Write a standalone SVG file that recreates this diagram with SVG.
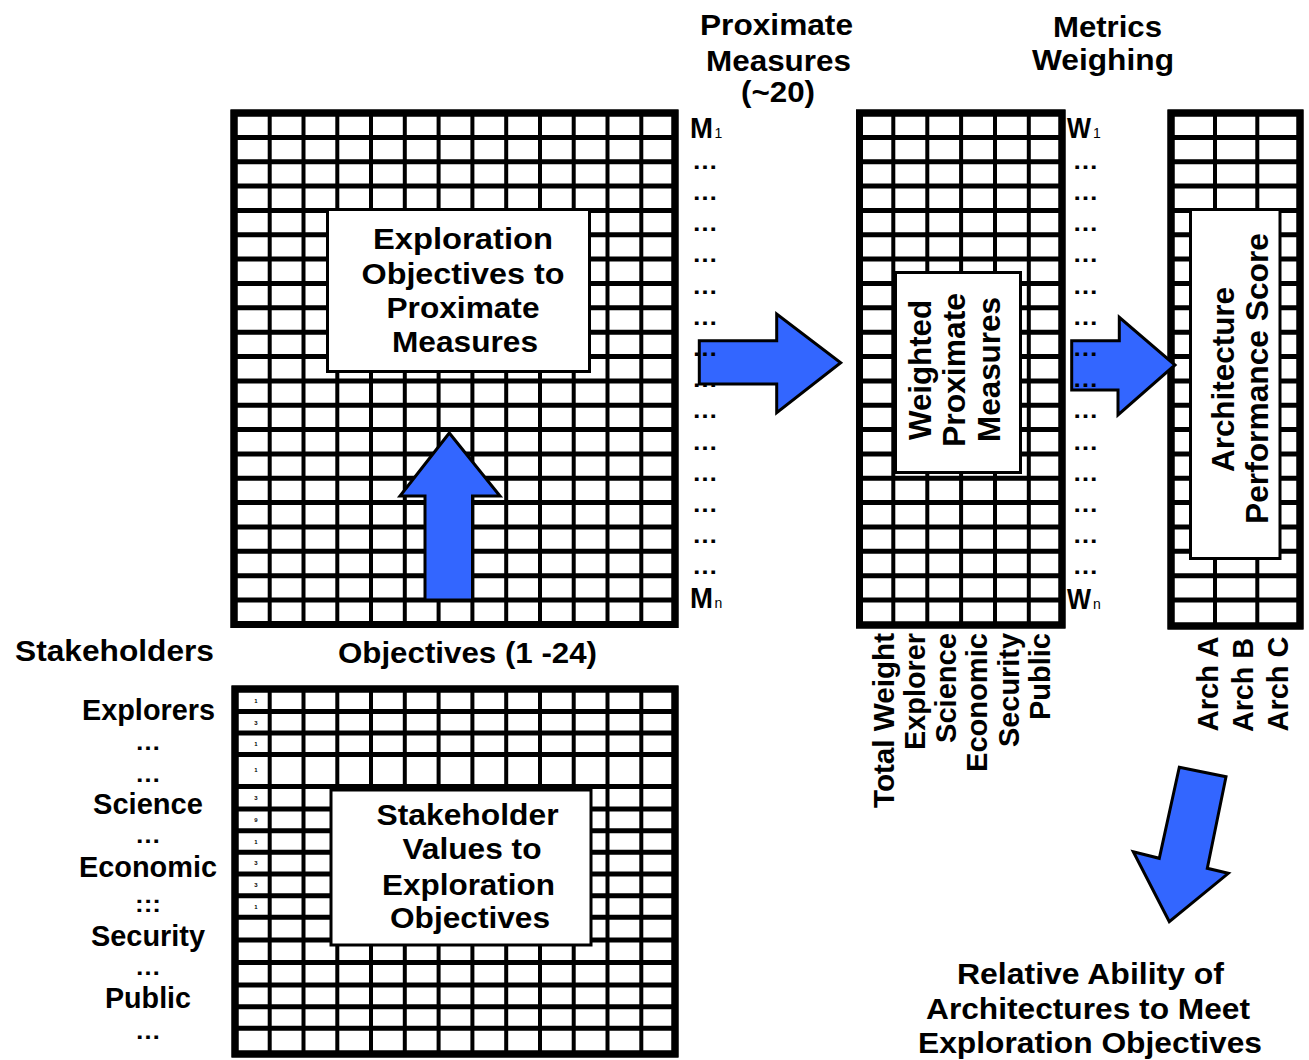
<svg xmlns="http://www.w3.org/2000/svg" width="1309" height="1060" viewBox="0 0 1309 1060">
  <style>
    .t { font-family: "Liberation Sans", Arial, Helvetica, sans-serif; font-weight: bold; font-size: 29px; fill: #000; }
    .tb { font-family: "Liberation Sans", Arial, Helvetica, sans-serif; font-weight: bold; font-size: 31px; fill: #000; }
    .sub { font-family: "Liberation Sans", Arial, Helvetica, sans-serif; font-size: 14px; fill: #000; }
    .dots { font-family: "Liberation Sans", Arial, Helvetica, sans-serif; font-weight: bold; font-size: 24px; fill: #000; }
    .num { font-family: "Liberation Sans", Arial, Helvetica, sans-serif; font-weight: bold; font-size: 6px; fill: #000; text-anchor: middle; }
    .frame { fill: #fff; stroke: #000; stroke-width: 7; }
    .edge { fill: none; stroke: #000; stroke-width: 7; }
    .hl { fill: none; stroke: #000; stroke-width: 5; }
    .vl { fill: none; stroke: #000; stroke-width: 4; }
    .box { fill: #fff; stroke: #000; stroke-width: 3; }
    .arrow { fill: #3366ff; stroke: #000; stroke-width: 3; stroke-linejoin: miter; }
    .c { text-anchor: middle; }
  </style>

  <!-- Objectives x proximate measures matrix -->
  <g id="matrix-objectives-measures">
    <rect class="frame" x="234" y="113" width="441" height="511.5"/>
    <path class="vl" d="M269.7 113V624.5M303.5 113V624.5M337.3 113V624.5M371 113V624.5M404.8 113V624.5M438.6 113V624.5M472.4 113V624.5M506.2 113V624.5M540 113V624.5M573.7 113V624.5M641.3 113V624.5"/>
    <path class="vl" stroke-width="6" d="M607.5 113V624.5"/>
    <path class="hl" d="M234 137.4H675M234 161.7H675M234 186.1H675M234 210.4H675M234 234.8H675M234 259.1H675M234 283.5H675M234 307.8H675M234 332.2H675M234 356.5H675M234 380.9H675M234 405.2H675M234 429.6H675M234 453.9H675M234 478.3H675M234 502.6H675M234 527H675M234 551.3H675M234 575.7H675M234 600H675"/>
    <rect class="edge" x="234" y="113" width="441" height="511.5"/>
    <rect class="box" x="327.5" y="209.5" width="262" height="162"/>
    <text class="t c" x="463" y="249" textLength="180" lengthAdjust="spacingAndGlyphs">Exploration</text>
    <text class="t c" x="463" y="283.5" textLength="203" lengthAdjust="spacingAndGlyphs">Objectives to</text>
    <text class="t c" x="463" y="317.5" textLength="153" lengthAdjust="spacingAndGlyphs">Proximate</text>
    <text class="t c" x="465" y="351.5" textLength="146" lengthAdjust="spacingAndGlyphs">Measures</text>
  </g>

  <!-- Weighted measures matrix -->
  <g id="matrix-weighting">
    <rect class="frame" x="859.5" y="113" width="202.5" height="512"/>
    <path class="vl" d="M893.3 113V625M927.3 113V625M961.1 113V625M995 113V625M1028.8 113V625"/>
    <path class="hl" d="M859.5 137.4H1062M859.5 161.7H1062M859.5 186.1H1062M859.5 210.4H1062M859.5 234.8H1062M859.5 259.1H1062M859.5 283.5H1062M859.5 307.8H1062M859.5 332.2H1062M859.5 356.5H1062M859.5 380.9H1062M859.5 405.2H1062M859.5 429.6H1062M859.5 453.9H1062M859.5 478.3H1062M859.5 502.6H1062M859.5 527H1062M859.5 551.3H1062M859.5 575.7H1062M859.5 600H1062"/>
    <rect class="edge" x="859.5" y="113" width="202.5" height="512"/>
    <rect class="box" x="895.5" y="272.5" width="125" height="200"/>
    <text class="tb c" transform="translate(931 370) rotate(-90)" textLength="140" lengthAdjust="spacingAndGlyphs">Weighted</text>
    <text class="tb c" transform="translate(965 370) rotate(-90)" textLength="154" lengthAdjust="spacingAndGlyphs">Proximate</text>
    <text class="tb c" transform="translate(1000 369.5) rotate(-90)" textLength="145" lengthAdjust="spacingAndGlyphs">Measures</text>
  </g>

  <!-- Architecture score matrix -->
  <g id="matrix-architectures">
    <rect class="frame" x="1171" y="113" width="129" height="513"/>
    <path class="vl" d="M1215 113V626M1257.3 113V626"/>
    <path class="hl" d="M1171 137.4H1300M1171 161.7H1300M1171 186.1H1300M1171 210.4H1300M1171 234.8H1300M1171 259.1H1300M1171 283.5H1300M1171 307.8H1300M1171 332.2H1300M1171 356.5H1300M1171 380.9H1300M1171 405.2H1300M1171 429.6H1300M1171 453.9H1300M1171 478.3H1300M1171 502.6H1300M1171 527H1300M1171 551.3H1300M1171 575.7H1300M1171 600H1300"/>
    <rect class="edge" x="1171" y="113" width="129" height="513"/>
    <rect class="box" x="1190.5" y="209.5" width="89.5" height="349"/>
    <text class="tb c" transform="translate(1234 379.5) rotate(-90)" textLength="185" lengthAdjust="spacingAndGlyphs">Architecture</text>
    <text class="tb c" transform="translate(1268 378.5) rotate(-90)" textLength="291" lengthAdjust="spacingAndGlyphs">Performance Score</text>
  </g>

  <!-- Stakeholder values x objectives matrix -->
  <g id="matrix-stakeholders-objectives">
    <rect class="frame" x="235" y="689" width="440" height="365"/>
    <path class="vl" d="M269.7 689V1054M303.5 689V1054M337.3 689V1054M371 689V1054M404.8 689V1054M438.6 689V1054M472.4 689V1054M506.2 689V1054M540 689V1054M573.7 689V1054M641.3 689V1054"/>
    <path class="vl" stroke-width="6" d="M607.5 689V1054"/>
    <path class="hl" d="M235 711.5H675M235 733H675M235 754.5H675M235 786.5H675M235 809H675M235 830.7H675M235 852.3H675M235 874H675M235 895.7H675M235 917.3H675M235 940H675M235 962.5H675M235 985H675M235 1006.7H675M235 1028.3H675"/>
    <rect class="edge" x="235" y="689" width="440" height="365"/>
    <text class="num" x="256" y="702.5">1</text>
    <text class="num" x="256" y="724.5">3</text>
    <text class="num" x="256" y="746">1</text>
    <text class="num" x="256" y="772">1</text>
    <text class="num" x="256" y="800">3</text>
    <text class="num" x="256" y="822">9</text>
    <text class="num" x="256" y="843.5">1</text>
    <text class="num" x="256" y="865">3</text>
    <text class="num" x="256" y="887">3</text>
    <text class="num" x="256" y="908.5">1</text>
    <rect class="box" x="331" y="790" width="260" height="155"/>
    <text class="t c" x="467.5" y="825" textLength="182" lengthAdjust="spacingAndGlyphs">Stakeholder</text>
    <text class="t c" x="472" y="858.5" textLength="139" lengthAdjust="spacingAndGlyphs">Values to</text>
    <text class="t c" x="468.5" y="895" textLength="173" lengthAdjust="spacingAndGlyphs">Exploration</text>
    <text class="t c" x="470" y="928" textLength="160" lengthAdjust="spacingAndGlyphs">Objectives</text>
  </g>

  <!-- Flow arrows -->
  <g id="connectors">
    <polygon class="arrow" points="449.3,433 500,496 472.5,496 472.5,600 425,600 425,496 400,496"/>
    <polygon class="arrow" points="699.3,340.7 776.7,340.7 776.7,314 840.7,362.7 776.7,412.7 776.7,384 699.3,384"/>
    <polygon class="arrow" points="1071.7,340.7 1119.3,340.7 1119.3,317.3 1175,365 1118,415 1118,390 1071.7,390"/>
    <polygon class="arrow" points="1179.3,767.3 1226,776.7 1207.3,868.3 1228.3,873.3 1169.3,921.7 1133.3,851.7 1159.3,858.3"/>
  </g>

  <!-- Column headings -->
  <g id="heading-measures">
    <text class="t c" x="776.5" y="35" textLength="153" lengthAdjust="spacingAndGlyphs">Proximate</text>
    <text class="t c" x="778.5" y="71" textLength="145" lengthAdjust="spacingAndGlyphs">Measures</text>
    <text class="t c" x="778" y="102" textLength="74" lengthAdjust="spacingAndGlyphs">(~20)</text>
  </g>
  <g id="heading-weights">
    <text class="t c" x="1107.5" y="37" textLength="109" lengthAdjust="spacingAndGlyphs">Metrics</text>
    <text class="t c" x="1103" y="70" textLength="142" lengthAdjust="spacingAndGlyphs">Weighing</text>
  </g>

  <!-- Measure index column M1 ... Mn -->
  <g id="measure-index">
    <text class="t" x="690" y="138" textLength="23" lengthAdjust="spacingAndGlyphs">M</text><text class="sub" x="714.5" y="138">1</text>
    <text class="dots" x="692" y="168.7" textLength="26" lengthAdjust="spacingAndGlyphs">…</text>
    <text class="dots" x="692" y="199.9" textLength="26" lengthAdjust="spacingAndGlyphs">…</text>
    <text class="dots" x="692" y="231.1" textLength="26" lengthAdjust="spacingAndGlyphs">…</text>
    <text class="dots" x="692" y="262.3" textLength="26" lengthAdjust="spacingAndGlyphs">…</text>
    <text class="dots" x="692" y="293.5" textLength="26" lengthAdjust="spacingAndGlyphs">…</text>
    <text class="dots" x="692" y="324.7" textLength="26" lengthAdjust="spacingAndGlyphs">…</text>
    <text class="dots" x="692" y="355.9" textLength="26" lengthAdjust="spacingAndGlyphs">…</text>
    <text class="dots" x="692" y="387.1" textLength="26" lengthAdjust="spacingAndGlyphs">…</text>
    <text class="dots" x="692" y="418.3" textLength="26" lengthAdjust="spacingAndGlyphs">…</text>
    <text class="dots" x="692" y="449.5" textLength="26" lengthAdjust="spacingAndGlyphs">…</text>
    <text class="dots" x="692" y="480.7" textLength="26" lengthAdjust="spacingAndGlyphs">…</text>
    <text class="dots" x="692" y="511.9" textLength="26" lengthAdjust="spacingAndGlyphs">…</text>
    <text class="dots" x="692" y="543.1" textLength="26" lengthAdjust="spacingAndGlyphs">…</text>
    <text class="dots" x="692" y="574.3" textLength="26" lengthAdjust="spacingAndGlyphs">…</text>
    <text class="t" x="690" y="608" textLength="23" lengthAdjust="spacingAndGlyphs">M</text><text class="sub" x="714.5" y="608">n</text>
  </g>

  <!-- Weight index column W1 ... Wn -->
  <g id="weight-index">
    <text class="t" x="1067" y="138" textLength="24" lengthAdjust="spacingAndGlyphs">W</text><text class="sub" x="1093" y="138">1</text>
    <text class="dots" x="1072.5" y="168.7" textLength="26" lengthAdjust="spacingAndGlyphs">…</text>
    <text class="dots" x="1072.5" y="199.9" textLength="26" lengthAdjust="spacingAndGlyphs">…</text>
    <text class="dots" x="1072.5" y="231.1" textLength="26" lengthAdjust="spacingAndGlyphs">…</text>
    <text class="dots" x="1072.5" y="262.3" textLength="26" lengthAdjust="spacingAndGlyphs">…</text>
    <text class="dots" x="1072.5" y="293.5" textLength="26" lengthAdjust="spacingAndGlyphs">…</text>
    <text class="dots" x="1072.5" y="324.7" textLength="26" lengthAdjust="spacingAndGlyphs">…</text>
    <text class="dots" x="1072.5" y="355.9" textLength="26" lengthAdjust="spacingAndGlyphs">…</text>
    <text class="dots" x="1072.5" y="387.1" textLength="26" lengthAdjust="spacingAndGlyphs">…</text>
    <text class="dots" x="1072.5" y="418.3" textLength="26" lengthAdjust="spacingAndGlyphs">…</text>
    <text class="dots" x="1072.5" y="449.5" textLength="26" lengthAdjust="spacingAndGlyphs">…</text>
    <text class="dots" x="1072.5" y="480.7" textLength="26" lengthAdjust="spacingAndGlyphs">…</text>
    <text class="dots" x="1072.5" y="511.9" textLength="26" lengthAdjust="spacingAndGlyphs">…</text>
    <text class="dots" x="1072.5" y="543.1" textLength="26" lengthAdjust="spacingAndGlyphs">…</text>
    <text class="dots" x="1072.5" y="574.3" textLength="26" lengthAdjust="spacingAndGlyphs">…</text>
    <text class="t" x="1067" y="609" textLength="24" lengthAdjust="spacingAndGlyphs">W</text><text class="sub" x="1093" y="609">n</text>
  </g>

  <!-- Stakeholder list -->
  <g id="stakeholders">
    <text class="t c" x="114.5" y="661" textLength="199" lengthAdjust="spacingAndGlyphs">Stakeholders</text>
    <text class="t c" x="148.5" y="720" textLength="133" lengthAdjust="spacingAndGlyphs">Explorers</text>
    <text class="dots c" x="148" y="750" textLength="26" lengthAdjust="spacingAndGlyphs">…</text>
    <text class="dots c" x="148" y="782" textLength="26" lengthAdjust="spacingAndGlyphs">…</text>
    <text class="t c" x="148" y="814" textLength="110" lengthAdjust="spacingAndGlyphs">Science</text>
    <text class="dots c" x="148" y="843" textLength="26" lengthAdjust="spacingAndGlyphs">…</text>
    <text class="t c" x="148" y="877" textLength="138" lengthAdjust="spacingAndGlyphs">Economic</text>
    <text class="dots c" x="148" y="912" textLength="26" lengthAdjust="spacingAndGlyphs">:::</text>
    <text class="t c" x="148" y="946" textLength="114" lengthAdjust="spacingAndGlyphs">Security</text>
    <text class="dots c" x="148" y="975" textLength="26" lengthAdjust="spacingAndGlyphs">…</text>
    <text class="t c" x="148" y="1008" textLength="86" lengthAdjust="spacingAndGlyphs">Public</text>
    <text class="dots c" x="148" y="1039" textLength="26" lengthAdjust="spacingAndGlyphs">…</text>
  </g>

  <text class="t c" x="467.5" y="663" textLength="259" lengthAdjust="spacingAndGlyphs">Objectives (1 -24)</text>

  <!-- Stakeholder weight columns -->
  <g id="weight-columns">
    <text class="t" text-anchor="end" transform="translate(894 633) rotate(-90)" textLength="175" lengthAdjust="spacingAndGlyphs">Total Weight</text>
    <text class="t" text-anchor="end" transform="translate(925 633) rotate(-90)" textLength="117" lengthAdjust="spacingAndGlyphs">Explorer</text>
    <text class="t" text-anchor="end" transform="translate(956 633) rotate(-90)" textLength="110" lengthAdjust="spacingAndGlyphs">Science</text>
    <text class="t" text-anchor="end" transform="translate(987 633) rotate(-90)" textLength="139" lengthAdjust="spacingAndGlyphs">Economic</text>
    <text class="t" text-anchor="end" transform="translate(1019 633) rotate(-90)" textLength="114" lengthAdjust="spacingAndGlyphs">Security</text>
    <text class="t" text-anchor="end" transform="translate(1050 633) rotate(-90)" textLength="87" lengthAdjust="spacingAndGlyphs">Public</text>
  </g>

  <!-- Architecture columns -->
  <g id="architecture-columns">
    <text class="t" text-anchor="end" transform="translate(1218 636.5) rotate(-90)" textLength="95" lengthAdjust="spacingAndGlyphs">Arch A</text>
    <text class="t" text-anchor="end" transform="translate(1253 638) rotate(-90)" textLength="94" lengthAdjust="spacingAndGlyphs">Arch B</text>
    <text class="t" text-anchor="end" transform="translate(1288 636.5) rotate(-90)" textLength="95" lengthAdjust="spacingAndGlyphs">Arch C</text>
  </g>

  <!-- Outcome -->
  <g id="outcome">
    <text class="t c" x="1090.5" y="984" textLength="267" lengthAdjust="spacingAndGlyphs">Relative Ability of</text>
    <text class="t c" x="1088" y="1019" textLength="324" lengthAdjust="spacingAndGlyphs">Architectures to Meet</text>
    <text class="t c" x="1090" y="1053" textLength="344" lengthAdjust="spacingAndGlyphs">Exploration Objectives</text>
  </g>
</svg>
